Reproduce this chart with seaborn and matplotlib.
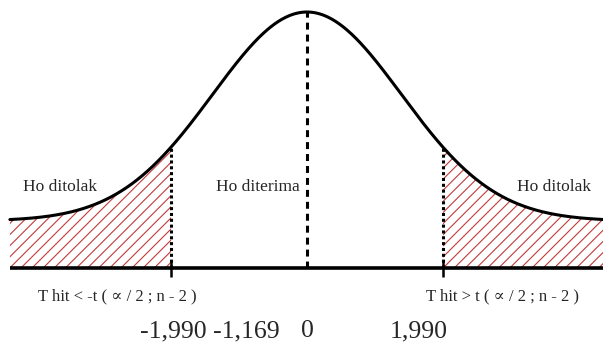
import numpy as np
import matplotlib
matplotlib.use('Agg')
import matplotlib.pyplot as plt
import seaborn as sns

# two-tailed t test: acceptance / rejection regions
t_crit = 1.990
t_hit = -1.169
region_labels = ['Ho ditolak', 'Ho diterima', 'Ho ditolak']
crit_labels = ['T hit < -t ( \u221d / 2 ; n - 2 )', 'T hit > t ( \u221d / 2 ; n - 2 )']
value_labels = ['-1,990', '-1,169', '0', '1,990']

# bell curve shape (t units on x, drawing units on y)
t_lo, t_hi = -4.35, 4.35
sigma = 1.38
tail_level = 47
peak_height = 209

sns.set_style('white')
plt.rcParams['font.family'] = ['Liberation Serif', 'DejaVu Serif']
plt.rcParams['hatch.linewidth'] = 0.8
plt.rcParams['lines.scale_dashes'] = False

W, H = 603, 347
x0, y0, sx = 307, 268, 68.3   # pixel layout: centre, baseline, px per t unit


def px(x):
    return (x - x0) / sx


def py(y):
    return y0 - y


def bell(x):
    return tail_level + peak_height * np.exp(-x ** 2 / (2 * sigma ** 2))


fig = plt.figure(figsize=(W / 100, H / 100), dpi=100)
ax = fig.add_axes([0, 0, 1, 1])
ax.set_xlim(px(0), px(W))
ax.set_ylim(py(H), py(0))
ax.axis('off')

hatch_red = '#c23a3a'
t_left = np.linspace(t_lo, -t_crit, 200)
t_right = np.linspace(t_crit, t_hi, 200)
ax.fill_between(t_left, 0, bell(t_left), facecolor='none', edgecolor=hatch_red,
                hatch='///', linewidth=0)
ax.fill_between(t_right, 0, bell(t_right), facecolor='none', edgecolor=hatch_red,
                hatch='///', linewidth=0)

t = np.linspace(t_lo, t_hi, 800)
sns.lineplot(x=t, y=bell(t), ax=ax, color='black', lw=2.2, sort=False)

# baseline
ax.plot([t_lo, px(W)], [0, 0], color='black', lw=2.6, solid_capstyle='butt')

# centre dashed line
ax.plot([0, 0], [0, bell(0)], color='black', lw=2.2, dashes=(5, 3.6),
        dash_capstyle='butt')

# critical dotted lines
for c in (-t_crit, t_crit):
    ax.plot([c, c], [0, bell(c)], color='black', lw=2.2, dashes=(2.2, 2.0),
            dash_capstyle='butt')
ax.vlines([-t_crit, t_crit], -9, 8, color='black', lw=1.8)

# region labels
for xc, lab in zip([60, 258, 554], region_labels):
    ax.text(px(xc), py(191), lab, ha='center', va='baseline', fontsize=12.5)

# critical labels
for xc, lab in zip([117, 503], crit_labels):
    ax.text(px(xc), py(300), lab, ha='center', va='baseline', fontsize=12)

# value row
for xc, lab in zip([173, 246, 307, 419], value_labels):
    ax.text(px(xc), py(337), lab, ha='center', va='baseline', fontsize=18.5)

fig.savefig('out.png', dpi=100)
